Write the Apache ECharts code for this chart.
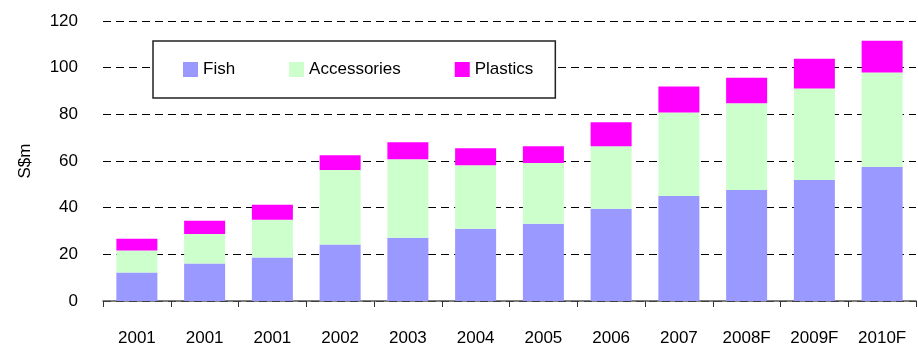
<!DOCTYPE html>
<html><head><meta charset="utf-8">
<script src="https://cdn.jsdelivr.net/npm/echarts@6/dist/echarts.min.js"></script>
<style>html,body{margin:0;padding:0;background:#fff}#c{width:918px;height:347px}</style>
</head><body><div id="c"></div>
<script>
const categories = ['2001','2001','2001','2002','2003','2004','2005','2006','2007','2008F','2009F','2010F'];
const fish        = [12.2, 16.1, 18.6, 24.2, 27.1, 31.0, 33.1, 39.5, 45.0, 47.6, 51.9, 57.4];
const accessories = [9.4, 12.6, 16.2, 31.9, 33.7, 27.2, 26.0, 26.8, 35.8, 37.1, 39.2, 40.5];
const plastics    = [5.1, 5.7, 6.4, 6.4, 7.2, 7.3, 7.2, 10.3, 11.1, 11.0, 12.7, 13.6];
const yTicks = [0, 20, 40, 60, 80, 100, 120];

const FONT = "'Liberation Sans', Arial, sans-serif";
const chart = echarts.init(document.getElementById('c'), null, {renderer: 'canvas'});
const mk = (name, data, color) => ({
  name, type: 'bar', stack: 'total', data, barWidth: 41,
  itemStyle: {color}, emphasis: {disabled: true}
});
chart.setOption({
  animation: false,
  textStyle: {fontFamily: FONT},
  grid: {left: 103, right: 2, top: 21, bottom: 45, containLabel: false},
  legend: {
    left: 153, top: 41, orient: 'horizontal', z: 10,
    padding: [20, 22, 20, 30], itemGap: 54,
    itemWidth: 15, itemHeight: 15,
    backgroundColor: '#fff',
    borderColor: '#222', borderWidth: 1.5,
    icon: 'rect',
    textStyle: {fontFamily: FONT, fontSize: 17, color: '#000'},
    data: ['Fish', 'Accessories', 'Plastics']
  },
  xAxis: {
    type: 'category', data: categories, boundaryGap: true,
    axisLine: {lineStyle: {color: '#555', width: 1.5}},
    axisTick: {show: true, length: 6, lineStyle: {color: '#333'}},
    axisLabel: {color: '#000', fontSize: 17, margin: 29, interval: 0, fontFamily: FONT}
  },
  yAxis: {
    type: 'value', min: yTicks[0], max: yTicks[yTicks.length - 1], interval: 20,
    name: 'S$m', nameLocation: 'middle', nameGap: 69, nameRotate: 90,
    nameTextStyle: {color: '#000', fontSize: 17, fontFamily: FONT},
    axisLine: {show: false}, axisTick: {show: false},
    axisLabel: {color: '#000', fontSize: 17, margin: 25, fontFamily: FONT},
    splitLine: {lineStyle: {color: '#000', type: [8, 5], width: 1}}
  },
  series: [
    mk('Fish', fish, '#9999FF'),
    mk('Accessories', accessories, '#CCFFCC'),
    mk('Plastics', plastics, '#FF00FF')
  ]
});
</script></body></html>
